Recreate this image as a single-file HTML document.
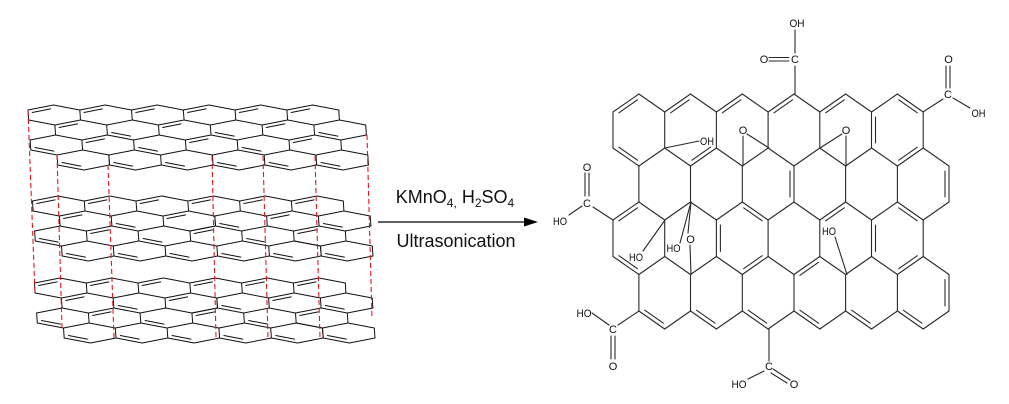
<!DOCTYPE html>
<html><head><meta charset="utf-8">
<style>
html,body{margin:0;padding:0;background:#fff;}
svg{display:block;}
text{font-family:"Liberation Sans",Arial,sans-serif;fill:#111;}
</style></head>
<body>
<svg id="s" width="1009" height="404" viewBox="0 0 1009 404" xmlns="http://www.w3.org/2000/svg">
<rect width="1009" height="404" fill="#fff"/>
<g id="left" stroke="#111" stroke-width="1" fill="none" stroke-linecap="round"></g>
<g id="red" stroke="#e8141b" stroke-width="1.1" stroke-dasharray="5,3" fill="none"></g>
<g id="right" stroke="#2a2a2a" stroke-width="1.1" fill="none" stroke-linecap="round"></g>

<!-- arrow -->
<line x1="378" y1="222" x2="527" y2="222" stroke="#000" stroke-width="1.3"/>
<polygon points="538,222 524,217.5 524,226.5" fill="#000"/>
<text x="455" y="203" font-size="18" text-anchor="middle">KMnO<tspan font-size="12" dy="4">4,</tspan><tspan dy="-4"> H</tspan><tspan font-size="12" dy="4">2</tspan><tspan dy="-4">SO</tspan><tspan font-size="12" dy="4">4</tspan></text>
<text x="456" y="247" font-size="18" text-anchor="middle">Ultrasonication</text>

<!-- right structure labels -->
<g font-size="11" text-anchor="middle">
<text x="797" y="27" textLength="15" lengthAdjust="spacingAndGlyphs">OH</text>
<text x="795" y="63">C</text>
<text x="764" y="63">O</text>
<text x="948.5" y="63">O</text>
<text x="948" y="98">C</text>
<text x="978.5" y="117" textLength="14" lengthAdjust="spacingAndGlyphs">OH</text>
<text x="707" y="145" textLength="14" lengthAdjust="spacingAndGlyphs">OH</text>
<text x="743" y="134">O</text>
<text x="846" y="134">O</text>
<text x="587" y="171">O</text>
<text x="587" y="207">C</text>
<text x="560" y="225" textLength="14" lengthAdjust="spacingAndGlyphs">HO</text>
<text x="636" y="261" textLength="14" lengthAdjust="spacingAndGlyphs">HO</text>
<text x="673.5" y="252" textLength="14" lengthAdjust="spacingAndGlyphs">HO</text>
<text x="690.5" y="243">O</text>
<text x="829" y="235" textLength="14" lengthAdjust="spacingAndGlyphs">HO</text>
<text x="584" y="317" textLength="15" lengthAdjust="spacingAndGlyphs">HO</text>
<text x="613" y="333">C</text>
<text x="613" y="370">O</text>
<text x="769" y="370">C</text>
<text x="739" y="388" textLength="15" lengthAdjust="spacingAndGlyphs">HO</text>
<text x="794" y="388">O</text>
</g>
</svg>
<script>
(function(){
const NS="http://www.w3.org/2000/svg";
function ln(g,x1,y1,x2,y2){const l=document.createElementNS(NS,'line');
 l.setAttribute('x1',x1.toFixed(1));l.setAttribute('y1',y1.toFixed(1));
 l.setAttribute('x2',x2.toFixed(1));l.setAttribute('y2',y2.toFixed(1));g.appendChild(l);}
function dbl(g,p,q,c,d,s){
 const dx=q[0]-p[0],dy=q[1]-p[1],L=Math.hypot(dx,dy);
 let nx=-dy/L,ny=dx/L;const mx=(p[0]+q[0])/2,my=(p[1]+q[1])/2;
 if((c[0]-mx)*nx+(c[1]-my)*ny<0){nx=-nx;ny=-ny;}
 ln(g,p[0]+dx*s+nx*d,p[1]+dy*s+ny*d,q[0]-dx*s+nx*d,q[1]-dy*s+ny*d);
}
/* ---------- left graphite layers ---------- */
const gL=document.getElementById('left');
const W=51.8,H=25.9;
function layer(X0,Y0){
 const seen=new Set();
 const sh=(x,y)=>[x+0.07*(y-Y0),y];
 for(let j=0;j<4;j++)for(let k=0;k<6;k++){
  const cx=X0+W*k+H*(j%2),cy=Y0+10+15*j;
  const raw=[[cx,cy-10],[cx+H,cy-5],[cx+H,cy+5],[cx,cy+10],[cx-H,cy+5],[cx-H,cy-5]];
  const v=raw.map(p=>sh(p[0],p[1]));const c=sh(cx,cy);
  for(let i=0;i<6;i++){const a=v[i],b=v[(i+1)%6];
   const key=[a,b].map(p=>p[0].toFixed(0)+','+p[1].toFixed(0)).sort().join('|');
   if(seen.has(key))continue;seen.add(key);ln(gL,a[0],a[1],b[0],b[1]);}
  let es=[];
  if(j==0)es=[5];
  else if(j==1)es=(k%2==0)?[5]:[3];
  else if(j==2)es=(k%2==1)?[5]:[3];
  else es=[3];
  es.forEach(e=>dbl(gL,v[e],v[(e+1)%6],c,3.3,0.14));
 }
}
layer(53.5,105);layer(58,196);layer(60,278);
/* ---------- red dashed ---------- */
const gR=document.getElementById('red');
[[28,111,35,293],[57,155,62,328],[108,165,114,338],[212,156,216,338],[263,156,268,338],[315,156,320,338],[367,135,372,318]]
 .forEach(a=>ln(gR,a[0],a[1],a[2],a[3]));
/* ---------- right oxidised sheet ---------- */
const g=document.getElementById('right');
const X=n=>613+25.85*n;
const LY=[94,112,148,166,202,220,256.5,274.5,311,329];
const seen=new Set();
function hexV(r,c){return [[X(c),LY[2*r]],[X(c+1),LY[2*r+1]],[X(c+1),LY[2*r+2]],[X(c),LY[2*r+3]],[X(c-1),LY[2*r+2]],[X(c-1),LY[2*r+1]]];}
for(let r=0;r<4;r++){const start=(r%2==0)?1:2;
 for(let c=start;c<=start+10;c+=2){const v=hexV(r,c);
  for(let i=0;i<6;i++){const a=v[i],b=v[(i+1)%6];
   const key=[a,b].map(p=>p[0].toFixed(0)+','+p[1].toFixed(0)).sort().join('|');
   if(seen.has(key))continue;seen.add(key);ln(g,a[0],a[1],b[0],b[1]);}}}
const D=[[0,1,5],[0,1,3],[0,3,5],[0,5,5],[0,7,5],[0,9,5],[0,11,0],[0,11,4],[0,11,2],[0,3,2],
 [1,6,1],[1,12,1],
 [2,1,5],[2,5,0],[2,5,4],[2,9,5],[2,11,4],[2,11,0],[2,11,2],[2,1,3],[2,5,2],
 [3,8,5],[3,12,1],[3,2,3],[3,4,3],[3,6,3],[3,8,3],[3,10,3],[3,12,3]];
D.forEach(([r,c,e])=>{const v=hexV(r,c);const cx=X(c),cy=(LY[2*r+1]+LY[2*r+2])/2;
 dbl(g,v[e],v[(e+1)%6],[cx,cy],4,0.14);});
/* substituent bonds */
const B=[
 [795,94,795,66],[795,53,795,30],[769,57.5,789,57.5],[769,61,789,61],
 [923,112,943,99],[946,66,946,88],[950,66,950,88],[953,98,970,108],
 [665,148,699,141],
 [743,136,743,166],[747,134,769,148],[846,136,846,166],[842,134,820,148],
 [613,220,593,207],[585,173,585,196],[589,173,589,196],[582,206,569,215],
 [665,220,643,251],[691,202,680,243],[691,202,688,233],[690,245,691,274.5],
 [835,237,847,274.5],
 [639,311,618,325],[592,313,609,325],[611,336,611,359],[615,336,615,359],
 [769,329,769,361],[764,371,748,379],[773,369,790,380],[771,373,787,383]
];
B.forEach(a=>ln(g,a[0],a[1],a[2],a[3]));
})();
</script>
</body></html>
